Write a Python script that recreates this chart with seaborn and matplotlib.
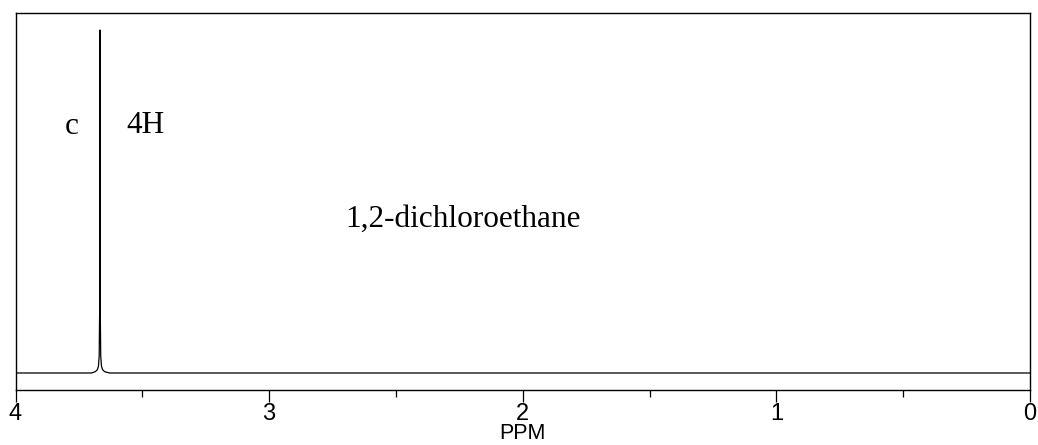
import matplotlib
matplotlib.use("Agg")
import matplotlib.pyplot as plt
import seaborn as sns
import pandas as pd

sns.set_style("ticks")
plt.rcParams['font.family'] = ['Liberation Sans', 'DejaVu Sans']
plt.rcParams['text.color'] = 'black'
plt.rcParams['axes.labelcolor'] = 'black'
plt.rcParams['xtick.color'] = 'black'

# spectrum (ppm, relative intensity)
ppm = [4.0, 3.70, 3.685, 3.677, 3.673, 3.670, 3.668, 3.667,
       3.666, 3.664, 3.661, 3.657, 3.649, 3.63, 0.0]
intensity = [0.0, 0.0, 0.004, 0.01, 0.02, 0.05, 0.2, 1.0,
             0.2, 0.05, 0.02, 0.01, 0.004, 0.0, 0.0]

major_ticks = [4, 3, 2, 1, 0]
minor_ticks = [3.5, 2.5, 1.5, 0.5]

compound = "1,2-dichloroethane"
peak_label = "c"
peak_integral = "4H"

df = pd.DataFrame({"ppm": ppm, "intensity": intensity})

fig = plt.figure(figsize=(10.38, 4.45), dpi=100)
ax = fig.add_axes([15.5 / 1038, 1 - 390 / 445, 1014.5 / 1038, 377 / 445])

sns.lineplot(data=df, x="ppm", y="intensity", ax=ax, color="black",
             linewidth=0.9, sort=False)

ax.set_xlim(4, 0)
ax.set_ylim(-0.0496, 1.0496)
ax.set_yticks([])
ax.set_ylabel("")
ax.set_xticks(major_ticks)
ax.set_xticks(minor_ticks, minor=True)
ax.tick_params(axis="x", which="major", direction="out", length=8.6,
               width=0.9, labelsize=17, pad=1, color="black")
ax.tick_params(axis="x", which="minor", direction="out", length=5,
               width=0.9, color="black")
ax.set_xlabel("PPM", fontsize=15.5, labelpad=-1.5)

for s in ax.spines.values():
    s.set_visible(True)
    s.set_color("black")
    s.set_linewidth(1.0)

serif = ['Liberation Serif', 'DejaVu Serif']
ax.text(3.777, 0.72, peak_label, family=serif, fontsize=22.5,
        ha="center", va="center")
ax.text(3.564, 0.70, peak_integral, family=serif, fontsize=22.5,
        ha="left", va="baseline")
ax.text(2.701, 0.426, compound, family=serif, fontsize=22.5,
        ha="left", va="baseline")

fig.savefig("out.png", dpi=100)
